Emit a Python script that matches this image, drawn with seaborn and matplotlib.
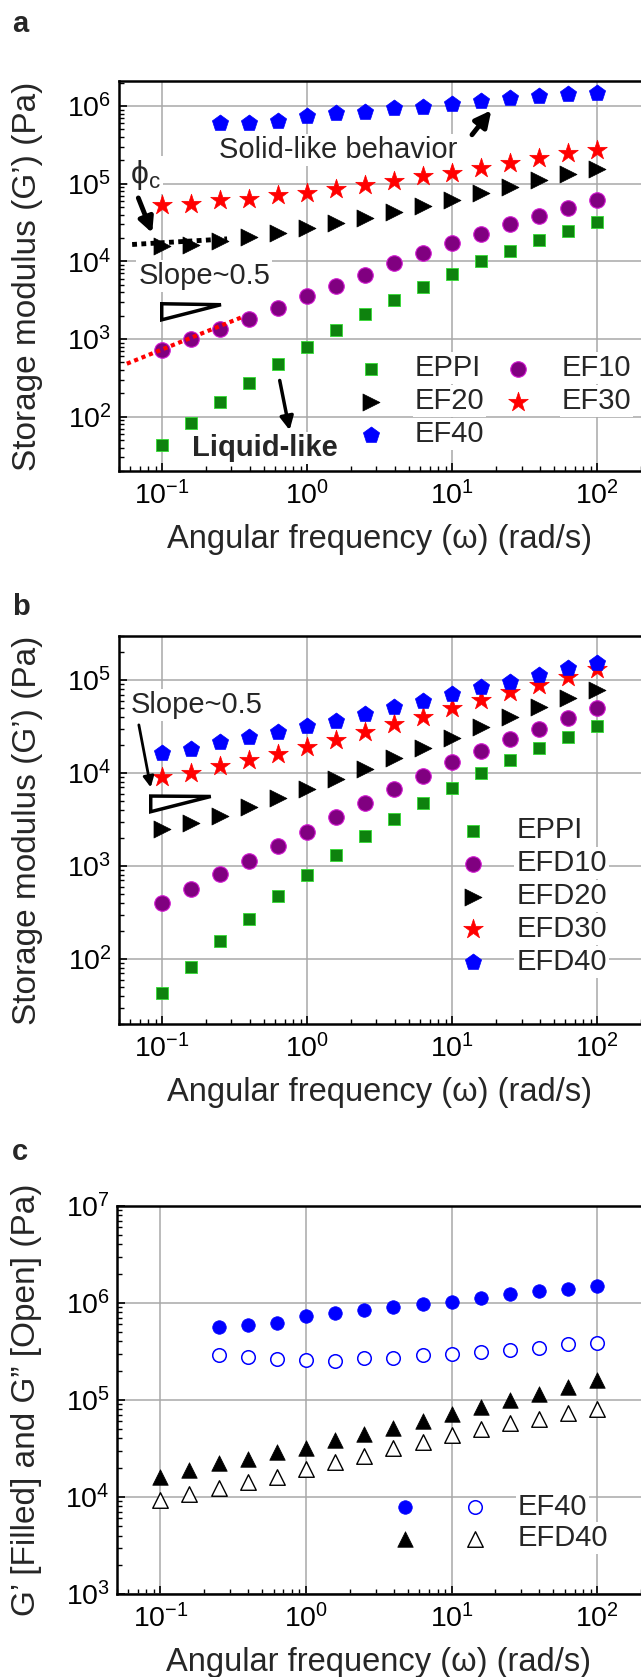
import numpy as np
import matplotlib
matplotlib.use("Agg")
import matplotlib.pyplot as plt
import seaborn as sns
from matplotlib.legend_handler import HandlerTuple
from matplotlib.ticker import LogLocator, NullFormatter

# angular frequency (rad/s), 5 points per decade
freq = [0.1, 0.158, 0.251, 0.398, 0.631, 1.0, 1.58, 2.51, 3.98, 6.31,
        10.0, 15.8, 25.1, 39.8, 63.1, 100.0]
freq_40 = freq[2:]

# panel a: storage modulus G' (Pa)
eppi = [43, 83, 156, 269, 473, 800, 1300, 2100, 3180, 4720,
        6890, 1.0e4, 1.38e4, 1.86e4, 2.45e4, 3.2e4]
ef10 = [720, 1000, 1340, 1840, 2550, 3610, 4860, 6740, 9440, 1.27e4,
        1.71e4, 2.27e4, 2.99e4, 3.83e4, 4.9e4, 6.1e4]
ef20 = [1.56e4, 1.63e4, 1.85e4, 2.08e4, 2.32e4, 2.67e4, 3.1e4, 3.63e4, 4.3e4, 5.1e4,
        6.2e4, 7.57e4, 9.06e4, 1.1e5, 1.35e5, 1.56e5]
ef30 = [5.4e4, 5.5e4, 6.1e4, 6.45e4, 7.06e4, 7.65e4, 8.45e4, 9.5e4, 1.07e5, 1.24e5,
        1.39e5, 1.6e5, 1.87e5, 2.15e5, 2.52e5, 2.7e5]
ef40 = [5.97e5, 5.97e5, 6.46e5, 7.5e5, 8.04e5, 8.45e5, 9.3e5, 9.8e5,
        1.06e6, 1.17e6, 1.26e6, 1.36e6, 1.42e6, 1.49e6]

# panel b
efd10 = [403, 561, 813, 1130, 1640, 2340, 3340, 4720, 6730, 9290,
         1.3e4, 1.74e4, 2.32e4, 2.97e4, 3.94e4, 4.96e4]
efd20 = [2480, 2880, 3450, 4280, 5350, 6730, 8620, 1.1e4, 1.44e4, 1.84e4,
         2.4e4, 3.15e4, 4.03e4, 5.08e4, 6.35e4, 7.8e4]
efd30 = [9000, 9930, 1.19e4, 1.38e4, 1.6e4, 1.92e4, 2.26e4, 2.78e4, 3.34e4, 4.03e4,
         4.96e4, 6.09e4, 7.37e4, 8.83e4, 1.07e5, 1.31e5]
efd40 = [1.63e4, 1.81e4, 2.14e4, 2.42e4, 2.74e4, 3.23e4, 3.65e4, 4.3e4, 5.08e4, 5.94e4,
         7.06e4, 8.34e4, 9.6e4, 1.13e5, 1.34e5, 1.53e5]

# panel c: G' (filled) and G'' (open)
ef40_gp = [5.67e5, 5.9e5, 6.24e5, 7.3e5, 7.9e5, 8.43e5, 9.12e5, 9.72e5,
           1.03e6, 1.13e6, 1.23e6, 1.32e6, 1.39e6, 1.49e6]
ef40_gpp = [2.9e5, 2.75e5, 2.64e5, 2.58e5, 2.54e5, 2.72e5, 2.72e5, 2.9e5,
            2.95e5, 3.09e5, 3.27e5, 3.4e5, 3.74e5, 3.83e5]
efd40_gp = [1.62e4, 1.9e4, 2.22e4, 2.44e4, 2.89e4, 3.22e4, 3.87e4, 4.46e4, 5.18e4, 6.07e4,
            7.16e4, 8.5e4, 9.97e4, 1.15e5, 1.37e5, 1.6e5]
efd40_gpp = [9300, 1.07e4, 1.23e4, 1.42e4, 1.6e4, 1.94e4, 2.31e4, 2.66e4, 3.17e4, 3.71e4,
             4.35e4, 4.98e4, 5.82e4, 6.35e4, 7.28e4, 8.06e4]

# annotation guides (data coords)
red_fit_x = [0.057, 0.35]
red_fit_y = [482, 1897]
phi_line_x = [0.062, 0.28]
phi_line_y = [1.65e4, 1.95e4]
tri_a_x = [0.0992, 0.0992, 0.254]
tri_a_y = [2850, 1770, 2770]
tri_b_x = [0.0833, 0.0833, 0.216]
tri_b_y = [5660, 3840, 5600]

sns.set_theme(style="white")
plt.rcParams["font.family"] = ["Liberation Sans", "DejaVu Sans"]
plt.rcParams["mathtext.fontset"] = "custom"
plt.rcParams["mathtext.rm"] = "Liberation Sans"
plt.rcParams["mathtext.it"] = "Liberation Sans:italic"

GREEN, GREEN_E = "#0e820e", "#33dd33"
PURPLE, PURPLE_E = "#800080", "#d21ad2"
WHITE_BOX = dict(facecolor="white", edgecolor="none", pad=1.5)

# marker sizes (points^2)
S_SQ, S_CIR, S_TRI, S_STAR, S_PENT = 85, 125, 150, 220, 150

fig = plt.figure(figsize=(6.41, 16.77), dpi=100)


def style_axes(ax, ylim, ylabel):
    ax.set_xscale("log")
    ax.set_yscale("log")
    ax.set_xlim(0.05, 200)
    ax.set_ylim(*ylim)
    for axis in (ax.xaxis, ax.yaxis):
        axis.set_major_locator(LogLocator(base=10, numticks=12))
        axis.set_minor_locator(LogLocator(base=10, subs=np.arange(2, 10), numticks=40))
        axis.set_minor_formatter(NullFormatter())
    ax.grid(True, which="major", color="#a8a8a8", lw=1.1)
    ax.set_axisbelow(True)
    ax.tick_params(which="both", direction="in", top=False, right=False,
                   left=True, bottom=True, labelsize=20.5, colors="black")
    ax.tick_params(axis="x", which="major", pad=7)
    ax.tick_params(axis="y", which="major", pad=5)
    ax.tick_params(which="major", length=6, width=1.2)
    ax.tick_params(which="minor", length=3.5, width=1.0)
    for s in ax.spines.values():
        s.set_linewidth(1.8)
        s.set_color("black")
    ax.spines["right"].set_visible(False)
    ax.set_xlabel("Angular frequency (ω) (rad/s)", fontsize=23.5, va="top")
    ax.xaxis.set_label_coords(0.5, -0.136)
    ax.set_ylabel(ylabel, fontsize=24)
    ax.yaxis.set_label_coords(-0.145, 0.5)


def pts(ax, x, y, **kw):
    sns.scatterplot(x=x, y=y, ax=ax, zorder=3, legend=False, **kw)
    return ax.collections[-1]


def white_texts(leg):
    for t in leg.get_texts():
        t.set_bbox(WHITE_BOX)


# ---------------- panel a ----------------
ax_a = fig.add_axes([0.185, 0.7191, 0.815, 0.2326])
h1 = pts(ax_a, freq, eppi, marker="s", s=S_SQ, color=GREEN, edgecolor=GREEN_E, linewidth=0.6)
h2 = pts(ax_a, freq, ef10, marker="o", s=S_CIR, color=PURPLE, edgecolor=PURPLE_E, linewidth=0.8)
h3 = pts(ax_a, freq, ef20, marker=">", s=S_TRI, color="black", edgecolor="black", linewidth=0.5)
h4 = pts(ax_a, freq, ef30, marker="*", s=S_STAR, color="red", edgecolor="red", linewidth=0.5)
h5 = pts(ax_a, freq_40, ef40, marker="p", s=S_PENT, color="blue", edgecolor="blue", linewidth=0.5)
style_axes(ax_a, (20, 2.1e6), "Storage modulus (G’) (Pa)")

ax_a.plot(red_fit_x, red_fit_y, color="red", ls=(0, (1, 0.9)), lw=3, zorder=4)
ax_a.plot(phi_line_x, phi_line_y, color="black", ls=(0, (1, 0.9)), lw=3.5, zorder=4)
ax_a.fill(tri_a_x, tri_a_y, facecolor="white", edgecolor="black", lw=2.5, zorder=4)

ax_a.text(0.247, 2.7e5, "Solid-like behavior", fontsize=21, ha="left", va="center",
          bbox=WHITE_BOX, zorder=2)
ax_a.annotate("", xy=(19.1, 9.4e5), xytext=(13.3, 4.0e5),
              arrowprops=dict(arrowstyle="-|>", lw=3.5, color="black", mutation_scale=24))
ax_a.text(0.060, 1.29e5, r"$\mathrm{\phi}_{\mathrm{c}}$", fontsize=23, ha="left", va="center",
          bbox=WHITE_BOX, zorder=2)
ax_a.annotate("", xy=(0.0867, 2.15e4), xytext=(0.0673, 7.08e4),
              arrowprops=dict(arrowstyle="-|>", lw=3.5, color="black", mutation_scale=22))
ax_a.text(0.0684, 6550, "Slope~0.5", fontsize=21, ha="left", va="center",
          bbox=WHITE_BOX, zorder=2)
ax_a.text(0.161, 39.6, "Liquid-like", fontsize=21, fontweight="bold", ha="left", va="center",
          bbox=WHITE_BOX, zorder=2)
ax_a.annotate("", xy=(0.762, 62), xytext=(0.64, 318),
              arrowprops=dict(arrowstyle="-|>", lw=2.5, color="black", mutation_scale=20))

leg = ax_a.legend(handles=[h1, h3, h5, h2, h4], labels=["EPPI", "EF20", "EF40", "EF10", "EF30"],
                  ncol=2, loc="upper left", bbox_to_anchor=(0.455, 0.299), frameon=False,
                  fontsize=21, handlelength=1.0, handletextpad=1.0, columnspacing=0.66,
                  labelspacing=0.17, borderpad=0, borderaxespad=0, scatterpoints=1)
white_texts(leg)

# ---------------- panel b ----------------
ax_b = fig.add_axes([0.185, 0.3894, 0.815, 0.2315])
g1 = pts(ax_b, freq, eppi, marker="s", s=S_SQ, color=GREEN, edgecolor=GREEN_E, linewidth=0.6)
g2 = pts(ax_b, freq, efd10, marker="o", s=S_CIR, color=PURPLE, edgecolor=PURPLE_E, linewidth=0.8)
g3 = pts(ax_b, freq, efd20, marker=">", s=S_TRI, color="black", edgecolor="black", linewidth=0.5)
g4 = pts(ax_b, freq, efd30, marker="*", s=S_STAR, color="red", edgecolor="red", linewidth=0.5)
g5 = pts(ax_b, freq, efd40, marker="p", s=S_PENT, color="blue", edgecolor="blue", linewidth=0.5)
style_axes(ax_b, (20, 3e5), "Storage modulus (G’) (Pa)")

ax_b.fill(tri_b_x, tri_b_y, facecolor="white", edgecolor="black", lw=2.5, zorder=4)
ax_b.text(0.0608, 5.38e4, "Slope~0.5", fontsize=21, ha="left", va="center",
          bbox=WHITE_BOX, zorder=2)
ax_b.annotate("", xy=(0.084, 6560), xytext=(0.0684, 3.53e4),
              arrowprops=dict(arrowstyle="-|>", lw=2, color="black", mutation_scale=16))

leg = ax_b.legend(handles=[g1, g2, g3, g4, g5], labels=["EPPI", "EFD10", "EFD20", "EFD30", "EFD40"],
                  loc="upper left", bbox_to_anchor=(0.650, 0.535), frameon=False,
                  fontsize=21, handlelength=1.0, handletextpad=1.0,
                  labelspacing=0.17, borderpad=0, borderaxespad=0, scatterpoints=1)
white_texts(leg)

# ---------------- panel c ----------------
ax_c = fig.add_axes([0.182, 0.0495, 0.818, 0.2315])
k1 = pts(ax_c, freq_40, ef40_gp, marker="o", s=95, color="blue", edgecolor="blue", linewidth=0.5)
k2 = pts(ax_c, freq_40, ef40_gpp, marker="o", s=95, facecolor="white", edgecolor="blue", linewidth=1.1)
k3 = pts(ax_c, freq, efd40_gp, marker="^", s=125, color="black", edgecolor="black", linewidth=0.5)
k4 = pts(ax_c, freq, efd40_gpp, marker="^", s=125, facecolor="white", edgecolor="black", linewidth=1.0)
style_axes(ax_c, (1e3, 1e7), "G’ [Filled] and G” [Open] (Pa)")
ax_c.yaxis.set_label_coords(-0.142, 0.5)

leg = ax_c.legend(handles=[(k1, k2), (k3, k4)], labels=["EF40", "EFD40"],
                  handler_map={tuple: HandlerTuple(ndivide=None, pad=0)},
                  loc="upper left", bbox_to_anchor=(0.483, 0.261), frameon=False,
                  fontsize=21, handlelength=4.79, handletextpad=0.28,
                  labelspacing=0.12, borderpad=0, borderaxespad=0, scatterpoints=1)
white_texts(leg)

# panel letters
for letter, ypx in (("a", 32), ("b", 615), ("c", 1160)):
    fig.text(12 / 641, 1 - ypx / 1677, letter, fontsize=21, fontweight="bold",
             ha="left", va="baseline")

fig.savefig("out.png", dpi=100)
